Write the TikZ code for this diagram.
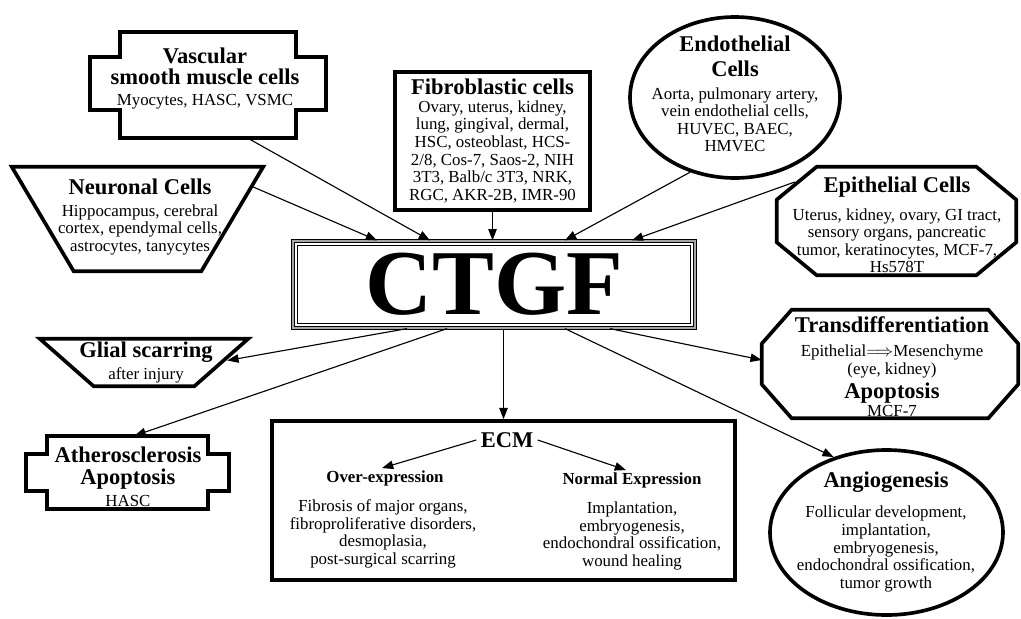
\documentclass[tikz,border=0pt]{standalone}
\usepackage{fontspec}
\setmainfont{Liberation Serif}
\usetikzlibrary{arrows.meta,shapes.geometric}

\newcommand\pu{0.025cm}
\newcommand\hd{\fontsize{16}{17}\selectfont\bfseries}
% frame with side steps round a body node: node, step width, top step, bottom step
\newcommand\plaqueframe[4]{%
 \draw[frame] (#1.north west) -- (#1.north east)
  -- ([shift={(0,#3)}]#1.north east) -- ++(#2,0)
  -- ([shift={(#2,-#4)}]#1.south east) -- ([shift={(0,-#4)}]#1.south east)
  -- (#1.south east) -- (#1.south west)
  -- ([shift={(0,-#4)}]#1.south west) -- ++(-#2,0)
  -- ([shift={(-#2,#3)}]#1.north west) -- ([shift={(0,#3)}]#1.north west) -- cycle;}
% octagon round a body node: node, cut x, cut y
\newcommand\octframe[3]{%
 \draw[frame] ([shift={(#2,0)}]#1.north west) -- ([shift={(-#2,0)}]#1.north east)
  -- ([shift={(0,#3)}]#1.north east) -- ([shift={(0,-#3)}]#1.south east)
  -- ([shift={(-#2,0)}]#1.south east) -- ([shift={(#2,0)}]#1.south west)
  -- ([shift={(0,-#3)}]#1.south west) -- ([shift={(0,#3)}]#1.north west) -- cycle;}
% upside-down trapezium round a body node: node, inset of the bottom corners
\newcommand\trapframe[2]{%
 \draw[frame] (#1.north west) -- (#1.north east)
  -- ([shift={(-#2,0)}]#1.south east) -- ([shift={(#2,0)}]#1.south west) -- cycle;}

\begin{document}
\begin{tikzpicture}[x=0.025cm,y=-0.025cm,>={Triangle[length=8pt,width=6pt]},
 font=\fontsize{12}{12.5}\selectfont,
 frame/.style={line width=2.6pt},
 body/.style={inner sep=0pt},
 box/.style={draw,frame,inner sep=0pt,align=center},
 oval/.style={box,ellipse},
 txt/.style={align=center,inner sep=0pt},
 arr/.style={->,line width=0.8pt}]
\useasboundingbox (0,0) rectangle (1021,619);

% sources
\node[body,minimum width=176*\pu,minimum height=106*\pu] (vsmc) at (208,85) {};
\plaqueframe{vsmc}{30}{25}{28}
\node[txt] (vsmc-t) at (205,78.5) {{\hd Vascular}\\[2.5pt]{\hd smooth muscle cells}\\[3pt]Myocytes, HASC, VSMC};

\node[body,minimum width=251*\pu,minimum height=104*\pu] (neur) at (137.5,219) {};
\trapframe{neur}{62}
\node[txt] (neur-t) at (140,217) {{\hd Neuronal Cells}\\[3pt]Hippocampus, cerebral\\cortex, ependymal cells,\\astrocytes, tanycytes};

\node[box,minimum width=195*\pu,minimum height=138*\pu] (fib) at (492.5,141) {{\hd Fibroblastic cells}\\Ovary, uterus, kidney,\\lung, gingival, dermal,\\HSC, osteoblast, HCS-\\2/8, Cos-7, Saos-2, NIH\\3T3, Balb/c 3T3, NRK,\\RGC, AKR-2B, IMR-90};

\node[oval,minimum width=210*\pu,minimum height=161*\pu] (endo) at (735,97.5) {};
\node[txt] (endo-t) at (735,94) {{\hd Endothelial}\\[5pt]{\hd Cells}\\[4pt]Aorta, pulmonary artery,\\vein endothelial cells,\\HUVEC, BAEC,\\HMVEC};

\node[body,minimum width=239*\pu,minimum height=108*\pu] (epi) at (896.5,221) {};
\octframe{epi}{40}{33}
\node[txt] (epi-t) at (897,225) {{\hd Epithelial Cells}\\[7pt]Uterus, kidney, ovary, GI tract,\\sensory organs, pancreatic\\tumor, keratinocytes, MCF-7,\\Hs578T};

% centre
\node[draw,double=gray!70,double distance=1.2pt,line width=0.9pt,minimum width=402*\pu,minimum height=87*\pu,
 font=\fontsize{66}{66}\selectfont\bfseries] (ctgf) at (494,284.5) {CTGF};
\draw[line width=0.6pt] ([shift={(5,5)}]ctgf.north west) rectangle ([shift={(-5,-5)}]ctgf.south east);

% effects
\node[body,minimum width=208*\pu,minimum height=47*\pu] (glial) at (144,362.5) {};
\trapframe{glial}{54}
\node[txt] (glial-t) at (146,362.5) {{\hd Glial scarring}\\[2.5pt]after injury};

\node[body,minimum width=161*\pu,minimum height=73*\pu] (athero) at (127.5,472.5) {};
\plaqueframe{athero}{21}{18}{18}
\node[txt] (athero-t) at (128,476.5) {{\hd Atherosclerosis}\\[3.5pt]{\hd Apoptosis}\\[3pt]HASC};

\node[box,minimum width=463*\pu,minimum height=159*\pu] (ecm) at (503.5,500.5) {};
\node[txt,inner sep=3pt] (ecm-t) at (507,440) {\hd ECM};
\node[txt,font=\fontsize{12}{12.5}\selectfont\bfseries] (over) at (385,478) {Over-expression};
\node[txt,font=\fontsize{12}{12.5}\selectfont\bfseries] (normal) at (632,480) {Normal Expression};
\node[txt] (over-t) at (383,534) {Fibrosis of major organs,\\fibroproliferative disorders,\\desmoplasia,\\post-surgical scarring};
\node[txt] (normal-t) at (632,536) {Implantation,\\embryogenesis,\\endochondral ossification,\\wound healing};

\node[body,minimum width=256*\pu,minimum height=108*\pu] (trans) at (890,364) {};
\octframe{trans}{30}{34}
\node[txt] (trans-t) at (892,366.5) {{\hd Transdifferentiation}\\[5pt]Epithelial$\Longrightarrow$Mesenchyme\\(eye, kidney)\\[2.5pt]{\hd Apoptosis}\\[0.5pt]MCF-7};

\node[oval,minimum width=233*\pu,minimum height=165*\pu] (angio) at (886.5,532.5) {};
\node[txt] (angio-t) at (886,532) {{\hd Angiogenesis}\\[9pt]Follicular development,\\implantation,\\embryogenesis,\\endochondral ossification,\\tumor growth};

% connectors
\draw[arr] ([shift={(40,0)}]vsmc.south) -- ([shift={(-64,0)}]ctgf.north);
\draw[arr] ([shift={(-10,-32)}]neur.east) -- ([shift={(-117,0)}]ctgf.north);
\draw[arr] (fib.south) -- (fib.south |- ctgf.north);
\draw[arr] (endo.239) -- ([shift={(71,0)}]ctgf.north);
\draw[arr] ([shift={(18,-39)}]epi.west) -- ([shift={(138,0)}]ctgf.north);
\draw[arr] ([shift={(-87,0)}]ctgf.south) -- ([shift={(-21,-2)}]glial.east);
\draw[arr] ([shift={(-47,0)}]ctgf.south) -- ([shift={(7,0)}]athero.north);
\draw[arr] (ecm.north |- ctgf.south) -- (ecm.north);
\draw[arr] ([shift={(116,0)}]ctgf.south) -- ([shift={(0,-4)}]trans.west);
\draw[arr] ([shift={(71,0)}]ctgf.south) -- (angio.125);
\draw[arr] (ecm-t.west) -- ([shift={(-3,-2)}]over.north);
\draw[arr] (ecm-t.east) -- ([shift={(-6,-2)}]normal.north);
\end{tikzpicture}
\end{document}
